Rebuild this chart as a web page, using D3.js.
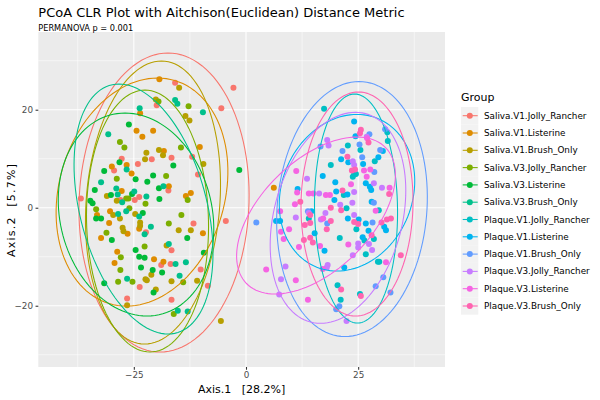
<!DOCTYPE html>
<html><head><meta charset="utf-8">
<script src="https://cdn.jsdelivr.net/npm/d3@7"></script>
<style>body{margin:0;background:#fff} text{font-family:"DejaVu Sans",sans-serif}</style>
</head><body><svg id="c" width="600" height="400"></svg>
<script>
const title = "PCoA CLR Plot with Aitchison(Euclidean) Distance Metric";
const subtitle = "PERMANOVA p = 0.001";
const xLabel = "Axis.1   [28.2%]";
const yLabel = "Axis.2  [5.7%]";
const legendTitle = "Group";
const groups = ["Saliva.V1.Jolly_Rancher","Saliva.V1.Listerine","Saliva.V1.Brush_Only","Saliva.V3.Jolly_Rancher","Saliva.V3.Listerine","Saliva.V3.Brush_Only","Plaque.V1.Jolly_Rancher","Plaque.V1.Listerine","Plaque.V1.Brush_Only","Plaque.V3.Jolly_Rancher","Plaque.V3.Listerine","Plaque.V3.Brush_Only"];
const colors = ["#F8766D","#DE8C00","#B79F00","#7CAE00","#00BA38","#00C08B","#00BFC4","#00B4F0","#619CFF","#C77CFF","#F564E3","#FF64B0"];
const xTicks = [-25, 0, 25];
const yTicks = [-20, 0, 20];
const xMinor = [-37.5, -12.5, 12.5, 37.5];
const yMinor = [-30, -10, 10, 30];
const xDomain = [-46.29, 44.35];
const yDomain = [-32.5, 35.86];

const salivaV1JR = [[-15.8,25.5],[-2.8,24.5],[-19.9,20.9],[-5.5,20.3],[-21.0,9.9],[-16.6,10.2],[-12.0,10.4],[-27.7,10.0],[-29.4,7.6],[-24.1,8.9],[-10.7,6.8],[-36.8,1.9],[-28.0,1.6],[-24.8,1.6],[-23.8,2.2],[-17.3,3.5],[-22.3,-5.0],[-11.7,-3.2],[-4.5,-2.7],[-16.6,-8.7],[-18.9,-11.7],[-16.8,-11.5],[-10.1,-12.6],[-8.5,-15.9],[-23.7,-16.2],[-26.5,-18.5],[-16.6,-18.8]];
const salivaV1L = [[-19.3,26.2],[-23.6,19.3],[-24.4,15.7],[-23.1,14.5],[-20.7,15.7],[-10.3,12.4],[-18.3,11.6],[-29.9,8.4],[-26.6,8.7],[-25.5,7.0],[-17.2,4.4],[-27.7,3.4],[-12.3,3.0],[-13.4,2.4],[-30.3,-0.7],[-33.2,-1.5],[-30.5,-3.1],[-23.8,-4.3],[-26.4,-5.3],[-32.3,-6.2],[-9.6,-5.2],[-28.7,-9.0],[-29.3,-11.3],[-20.5,-10.5],[-18.4,-11.0],[6.2,4.1]];
const salivaV1B = [[-14.9,24.5],[-20.1,22.1],[-13.5,18.7],[-12.6,17.8],[-19.4,11.8],[-18.5,10.7],[-22.2,11.2],[-22.5,9.9],[-9.5,8.9],[-31.0,2.4],[-28.8,1.4],[-29.6,-1.5],[-28.1,-2.2],[-24.7,-1.3],[-23.6,-3.0],[-23.6,-3.7],[-27.5,-4.1],[-27.3,-4.8],[-15.0,-4.6],[-12.3,-4.6],[-17.7,-7.7],[-21.1,-13.7],[-22.4,-14.6],[-22.1,-14.8],[-16.6,-15.0],[-10.9,-14.9],[-20.1,-16.7],[-26.5,-19.9],[-5.6,-23.1]];
const salivaV3JR = [[-19.5,21.7],[-12.8,20.7],[-28.1,13.4],[-27.1,12.3],[-14.5,12.3],[-28.8,5.9],[-17.8,6.5],[-33.4,-0.3],[-26.7,1.9],[-26.2,1.9],[-22.4,0.8],[-13.0,1.6],[-26.0,-0.1],[-31.1,-5.1],[-17.2,-3.2],[-14.4,-1.5],[-22.6,-7.9],[-27.9,-10.1],[-28.0,-12.7],[-28.5,-15.1],[-25.3,-15.1],[-14.0,-15.2],[-16.1,-21.7]];
const salivaV3L = [[-26.1,17.0],[-28.2,9.3],[-31.6,7.5],[-24.6,5.8],[-22.0,5.3],[-20.7,6.6],[-16.2,8.6],[-1.5,7.7],[-19.4,4.0],[-33.7,3.6],[-34.7,1.4],[-34.2,0.9],[-30.1,2.6],[-25.4,2.8],[-19.3,1.8],[-33.4,-2.2],[-32.3,-2.2],[-23.0,-1.1],[-29.9,-6.6],[-13.1,-6.2],[-24.6,-8.6],[-23.8,-10.0],[-22.6,-10.2],[-9.4,-9.2],[-23.4,-12.2],[-20.8,-12.7],[-18.7,-13.2],[-31.6,-15.4],[-20.6,-17.3]];
const salivaV3B = [[-15.8,22.0],[-15.3,21.2],[-9.6,19.5],[-23.7,20.3],[-30.7,15.0],[-26.6,7.8],[-32.3,5.2],[-18.4,4.4],[-28.9,3.9],[-28.6,2.7],[-27.6,1.1],[-24.9,3.3],[-22.2,2.3],[-28.5,-1.3],[-26.7,-0.7],[-23.8,-1.8],[-21.2,-3.9],[-22.6,-5.4],[-17.2,-7.4],[-15.7,-11.5],[-13.4,-11.1],[-14.8,-13.9],[-26.5,-14.5],[-15.2,-21.0],[-13.0,-21.2]];
const plaqueV1JR = [[17.4,20.2],[31.5,15.4],[31.6,13.6],[22.7,12.7],[25.5,11.8],[28.7,9.5],[24.1,6.8],[24.5,6.9],[23.8,6.3],[18.9,8.7],[21.8,2.6],[22.4,-0.1],[29.6,-0.5],[14.0,-2.2],[24.6,-4.4],[20.9,-6.2],[26.4,-6.7],[28.5,-6.4],[26.7,-9.5],[29.4,-11.0],[29.7,-11.0],[20.4,-15.8],[21.1,-18.8],[25.4,-17.6]];
const plaqueV1L = [[24.1,17.6],[24.4,14.6],[21.2,9.9],[22.8,9.3],[26.1,8.9],[29.5,10.3],[30.5,11.6],[17.1,6.5],[19.9,5.2],[26.7,5.0],[27.6,4.3],[27.9,3.6],[20.1,3.3],[22.6,2.7],[19.7,1.6],[11.5,3.8],[28.0,1.2],[14.6,-0.7],[22.7,-2.2],[25.1,-2.4],[26.7,-3.2],[6.7,-2.7],[7.6,-2.7],[15.3,-5.2],[17.5,-8.8],[26.0,-6.0],[27.3,-4.7],[30.8,-3.9],[31.2,-4.6],[21.9,-12.2]];
const plaqueV1B = [[27.5,15.0],[31.0,16.0],[16.6,12.5],[25.3,12.9],[21.5,11.6],[25.9,10.3],[29.9,11.8],[28.6,7.3],[28.5,1.0],[13.8,-0.7],[28.2,-3.0],[2.3,-3.0],[18.1,-3.2],[30.6,-14.2],[28.9,-16.0],[32.2,-17.3],[20.8,-20.1],[20.1,-20.7]];
const plaqueV3JR = [[26.9,14.5],[18.1,13.8],[18.4,12.7],[23.8,9.5],[24.1,8.7],[13.6,5.9],[28.5,5.0],[30.3,4.1],[24.1,3.2],[23.7,1.0],[16.3,2.9],[21.0,0.6],[11.1,-2.0],[17.7,-1.1],[16.7,-2.4],[24.1,-1.5],[14.0,-1.1],[25.0,-7.3],[25.0,-8.1],[23.8,-9.7],[27.4,-7.4],[28.1,-8.6],[18.2,-11.7],[18.0,-12.2],[8.8,-12.0],[7.8,-14.6],[7.4,-17.7],[22.4,-23.1]];
const plaqueV3L = [[27.0,14.2],[27.7,7.8],[26.3,7.6],[26.9,6.3],[11.2,7.5],[23.4,4.8],[32.0,4.1],[18.7,2.6],[17.8,2.6],[15.0,2.9],[14.0,2.9],[11.4,3.1],[10.9,0.7],[28.9,-0.6],[7.6,-0.7],[17.2,-2.2],[7.8,-4.9],[9.6,-4.4],[8.4,-6.4],[11.8,-8.0],[16.5,-7.8],[22.8,-7.5],[31.2,-11.1],[17.1,-12.5],[4.5,-12.6],[11.1,-14.8],[13.8,-18.8]];
const plaqueV3B = [[25.6,15.9],[25.4,15.2],[27.3,13.3],[22.6,10.4],[23.6,7.6],[24.3,7.8],[21.5,3.5],[31.9,2.8],[18.9,0.0],[21.2,-0.5],[14.3,-1.5],[18.9,-2.7],[24.1,-2.9],[30.2,-3.0],[31.4,-2.4],[32.3,-2.2],[12.1,1.2],[14.3,-3.1],[13.1,-3.5],[12.9,-6.6],[14.3,-6.1],[14.9,-7.1],[18.0,-4.4],[25.0,-3.3],[28.0,-5.6],[34.5,-9.7],[21.2,-16.7],[25.6,-18.0]];
const groupPoints = [salivaV1JR, salivaV1L, salivaV1B, salivaV3JR, salivaV3L, salivaV3B, plaqueV1JR, plaqueV1L, plaqueV1B, plaqueV3JR, plaqueV3L, plaqueV3B];

// 95% ellipses per group (data units): centre, horizontal half-chord, vertical half-height, shear of top point
const ellCx    = [-18.27,-23.18,-20.73,-21.95,-24.51,-22.84, 24.52, 22.51, 23.62, 20.50, 15.60, 24.74];
const ellCy    = [  1.06,  3.20,  1.06, -2.71, -1.39, -0.27, -0.16,  3.06, -0.27, -2.06, -1.59,  0.76];
const ellRx    = [ 18.94, 18.83, 14.93, 13.59, 17.16, 14.49,  9.25, 14.93, 16.72, 14.60, 15.15, 12.48];
const ellRy    = [ 30.51, 23.27, 28.88, 26.73, 20.71, 25.51, 23.37, 15.98, 26.02, 21.53, 16.02, 22.86];
const ellShear = [  0.89,  3.45,  1.89, -0.56, -2.45, -5.46, -0.33,  2.23,  1.56,  3.90,  9.14,  0.33];

const svg = d3.select("#c");
const L = 38.3, R = 445, T = 32, B = 367;
const x = d3.scaleLinear().domain(xDomain).range([L, R]);
const y = d3.scaleLinear().domain(yDomain).range([B, T]);

svg.append("rect").attr("x", L).attr("y", T).attr("width", R - L).attr("height", B - T).attr("fill", "#EBEBEB");
const grid = svg.append("g");
xMinor.forEach(v => grid.append("line").attr("x1", x(v)).attr("x2", x(v)).attr("y1", T).attr("y2", B).attr("stroke", "#fff").attr("stroke-width", 0.53));
yMinor.forEach(v => grid.append("line").attr("y1", y(v)).attr("y2", y(v)).attr("x1", L).attr("x2", R).attr("stroke", "#fff").attr("stroke-width", 0.53));
xTicks.forEach(v => grid.append("line").attr("x1", x(v)).attr("x2", x(v)).attr("y1", T).attr("y2", B).attr("stroke", "#fff").attr("stroke-width", 1.07));
yTicks.forEach(v => grid.append("line").attr("y1", y(v)).attr("y2", y(v)).attr("x1", L).attr("x2", R).attr("stroke", "#fff").attr("stroke-width", 1.07));

// points
const pg = svg.append("g");
groupPoints.forEach((pts, gi) => {
  pg.selectAll(null).data(pts).enter().append("circle")
    .attr("cx", d => x(d[0])).attr("cy", d => y(d[1])).attr("r", 3)
    .attr("fill", colors[gi]);
});

// ellipses
const line = d3.line().x(d => x(d[0])).y(d => y(d[1]));
const ts = d3.range(0, 361, 3).map(a => a * Math.PI / 180);
groups.forEach((g, i) => {
  const pts = ts.map(t => [ellCx[i] + ellRx[i] * Math.cos(t) + ellShear[i] * Math.sin(t), ellCy[i] + ellRy[i] * Math.sin(t)]);
  svg.append("path").attr("d", line(pts)).attr("fill", "none").attr("stroke", colors[i]).attr("stroke-width", 1.07);
});

// axes
const xa = svg.append("g").attr("transform", `translate(0,${B})`)
  .call(d3.axisBottom(x).tickValues(xTicks).tickSize(2.75).tickPadding(2.5));
const ya = svg.append("g").attr("transform", `translate(${L},0)`)
  .call(d3.axisLeft(y).tickValues(yTicks).tickSize(2.75).tickPadding(2.5));
[xa, ya].forEach(a => {
  a.select(".domain").remove();
  a.selectAll(".tick line").attr("stroke", "#333333").attr("stroke-width", 1.07);
  a.selectAll(".tick text").attr("fill", "#4D4D4D").style("font-size", "8.8px").style("font-family", "DejaVu Sans");
});

svg.append("text").attr("x", L).attr("y", 17.3).text(title).style("font-size", "13px").attr("fill", "#000");
svg.append("text").attr("x", L).attr("y", 30.5).text(subtitle).style("font-size", "8.2px").attr("fill", "#000");
svg.append("text").attr("x", (L + R) / 2).attr("y", 392.5).attr("text-anchor", "middle").style("white-space", "pre").style("font-size", "11px").text(xLabel);
svg.append("text").attr("transform", "translate(15,210.5) rotate(-90)").attr("text-anchor", "middle").style("white-space", "pre").style("font-size", "11px")
  .attr("textLength", 93).attr("lengthAdjust", "spacing").text(yLabel);

// legend
const lg = svg.append("g");
lg.append("text").attr("x", 461).attr("y", 100.5).text(legendTitle).style("font-size", "11px");
const ky = d3.scaleLinear().domain([0, groups.length - 1]).range([115.7, 306]);
groups.forEach((g, i) => {
  const cy = ky(i);
  lg.append("rect").attr("x", 461).attr("y", cy - 8.7).attr("width", 17.3).attr("height", 17.4).attr("fill", "#F2F2F2");
  lg.append("line").attr("x1", 462.7).attr("x2", 477.7).attr("y1", cy).attr("y2", cy).attr("stroke", colors[i]).attr("stroke-width", 1.07);
  lg.append("circle").attr("cx", 469.8).attr("cy", cy).attr("r", 3).attr("fill", colors[i]);
  lg.append("text").attr("x", 484).attr("y", cy).attr("dy", "0.35em").text(g).style("font-size", "8.8px").attr("fill", "#000");
});
</script></body></html>
